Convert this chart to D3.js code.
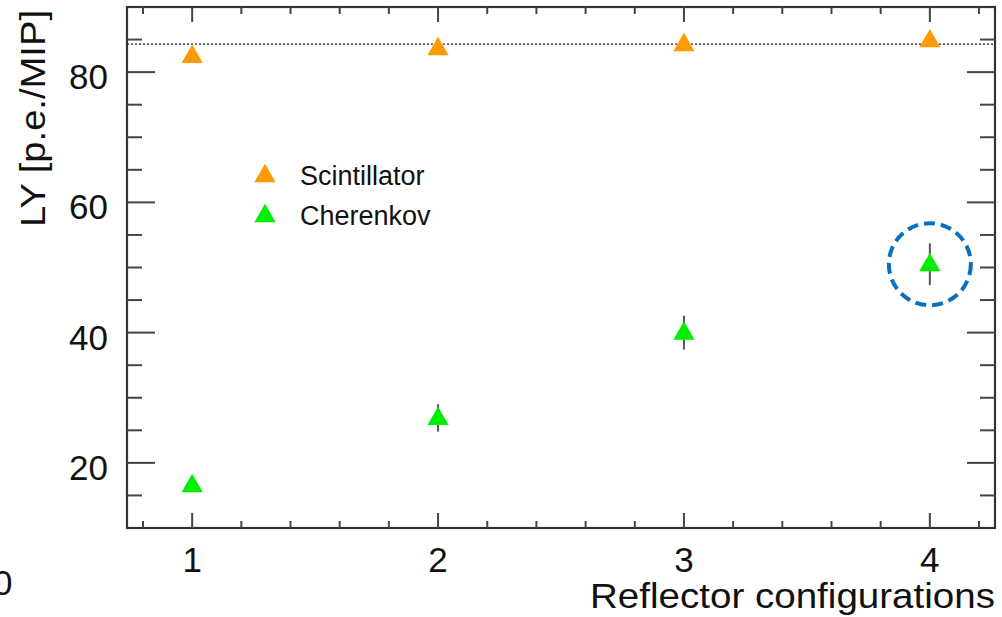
<!DOCTYPE html>
<html><head><meta charset="utf-8">
<script src="https://cdn.jsdelivr.net/npm/d3@7"></script>
<style>body{margin:0;background:#fff}svg{display:block}text{font-family:"Liberation Sans",Arial,sans-serif;fill:#111}</style>
</head><body><svg id="c" width="1002" height="617"></svg>
<script>
const configs = [1, 2, 3, 4];
const scintillator = [82.5, 83.7, 84.3, 84.9];
const scintErr = [0.4, 0.4, 0.4, 0.4];
const cherenkov = [16.6, 26.9, 40.0, 50.5];
const cherErr = [0.8, 2.1, 2.6, 3.2];
const refLine = 84.3;
const xMajor = [1, 2, 3, 4];
const yMajor = [20, 40, 60, 80];
const legendNames = ["Scintillator", "Cherenkov"];
const colors = ["#ff9a00", "#00ee00"];

const L = 127, R = 995, T = 7, B = 528;
const svg = d3.select("#c");
const x = d3.scaleLinear().domain([0.735, 4.265]).range([L, R]);
const y = d3.scaleLinear().domain([10, 90]).range([B, T]);

const xMinor = d3.range(0.8, 4.21, 0.2).map(v => +v.toFixed(2)).filter(v => !xMajor.some(m => Math.abs(m - v) < 1e-6));
const yMinor = d3.range(15, 90, 5).filter(v => !yMajor.includes(v));
const axCol = "#444";

const g = svg.append("g");
g.append("rect").attr("x", L).attr("y", T).attr("width", R - L).attr("height", B - T)
  .attr("fill", "none").attr("stroke", "#333").attr("stroke-width", 2.2);

function ticks(vals, len, isX) {
  vals.forEach(v => {
    if (isX) {
      const px = x(v);
      g.append("line").attr("x1", px).attr("x2", px).attr("y1", B).attr("y2", B - len).attr("stroke", axCol).attr("stroke-width", 2);
      g.append("line").attr("x1", px).attr("x2", px).attr("y1", T).attr("y2", T + len).attr("stroke", axCol).attr("stroke-width", 2);
    } else {
      const py = y(v);
      g.append("line").attr("y1", py).attr("y2", py).attr("x1", L).attr("x2", L + len).attr("stroke", axCol).attr("stroke-width", 2);
      g.append("line").attr("y1", py).attr("y2", py).attr("x1", R).attr("x2", R - len).attr("stroke", axCol).attr("stroke-width", 2);
    }
  });
}
ticks(xMajor, 15, true);
ticks(xMinor, 7, true);
ticks(yMajor, 28, false);
ticks(yMinor, 15, false);

g.selectAll(".xl").data(xMajor).enter().append("text")
  .attr("x", d => x(d)).attr("y", 572).attr("text-anchor", "middle")
  .attr("font-size", 35).text(d => d);
g.selectAll(".yl").data(yMajor).enter().append("text")
  .attr("x", 108).attr("y", d => y(d) + 17).attr("text-anchor", "end")
  .attr("font-size", 35).text(d => d);

g.append("text").attr("x", 590).attr("y", 608)
  .attr("font-size", 35).attr("textLength", 405).attr("lengthAdjust", "spacingAndGlyphs")
  .text("Reflector configurations");
g.append("text").attr("transform", "translate(45,227) rotate(-90)")
  .attr("font-size", 35).attr("textLength", 217).attr("lengthAdjust", "spacingAndGlyphs")
  .text("LY [p.e./MIP]");
g.append("text").attr("x", -7).attr("y", 595).attr("font-size", 35).text("0");

g.append("line").attr("x1", L).attr("x2", R).attr("y1", y(refLine)).attr("y2", y(refLine))
  .attr("stroke", "#222").attr("stroke-width", 1.3).attr("stroke-dasharray", "2,2");

const tri = d3.symbol().type(d3.symbolTriangle).size(195);

function series(vals, errs, col) {
  configs.forEach((c, i) => {
    g.append("line").attr("x1", x(c)).attr("x2", x(c))
      .attr("y1", y(vals[i] - errs[i])).attr("y2", y(vals[i] + errs[i]))
      .attr("stroke", "#555").attr("stroke-width", 2);
  });
  g.selectAll(null).data(configs).enter().append("path")
    .attr("d", tri).attr("fill", col)
    .attr("transform", (c, i) => `translate(${x(c)},${y(vals[i]) + 1})`);
}
series(scintillator, scintErr, colors[0]);
series(cherenkov, cherErr, colors[1]);

[[265, 176], [265, 216]].forEach((p, i) => {
  g.append("path").attr("d", tri).attr("fill", colors[i]).attr("transform", `translate(${p[0]},${p[1]})`);
  g.append("text").attr("x", 300).attr("y", p[1] + 9).attr("font-size", 27).text(legendNames[i]);
});

g.append("circle").attr("cx", x(configs[3])).attr("cy", y(cherenkov[3])).attr("r", 41)
  .attr("fill", "none").attr("stroke", "#0b6fbf").attr("stroke-width", 4).attr("stroke-dasharray", "11,6");
</script></body></html>
